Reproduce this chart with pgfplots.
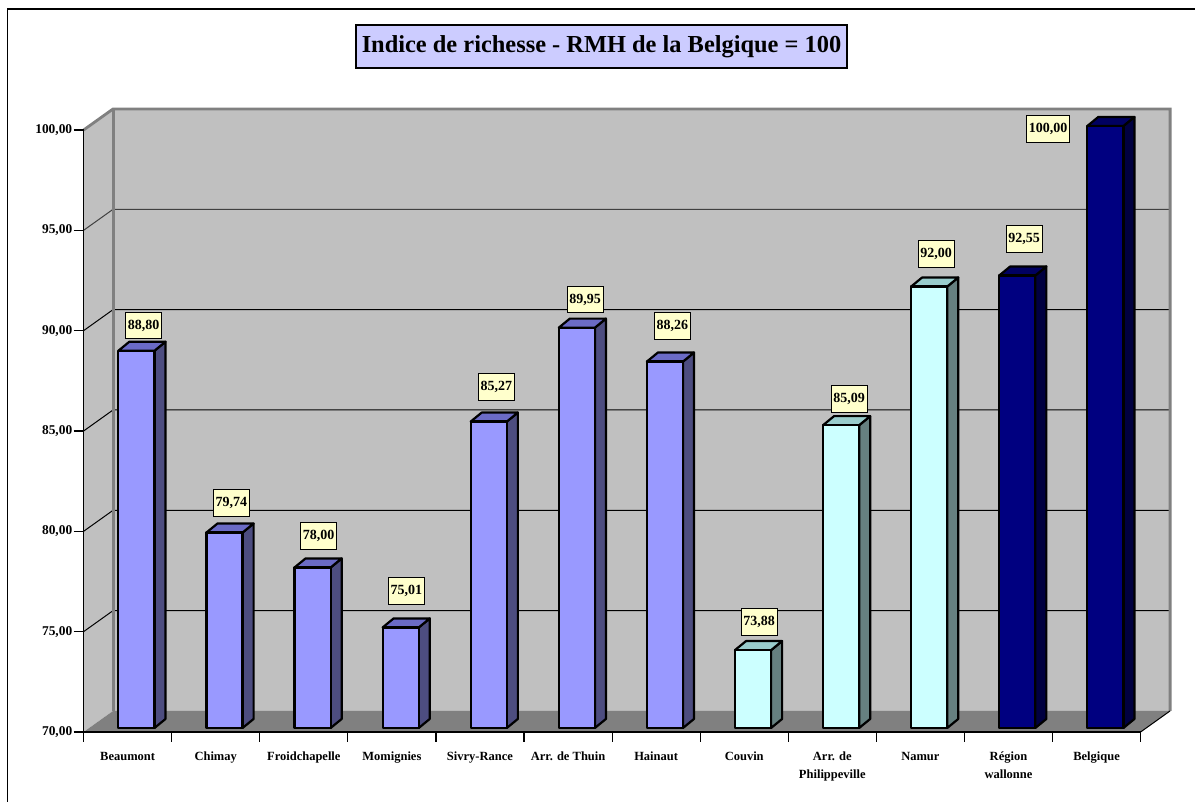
\documentclass[border=0pt]{standalone}
\usepackage{fontspec}
\setmainfont{Liberation Serif}
\usepackage{pgfplots}
\pgfplotsset{compat=1.18}

\definecolor{wall}{HTML}{C0C0C0}
\definecolor{floorc}{HTML}{808080}
\definecolor{lav}{HTML}{9999FF}
\definecolor{lavS}{HTML}{4D4D80}
\definecolor{lavT}{HTML}{6B6BC6}
\definecolor{cya}{HTML}{CCFFFF}
\definecolor{cyaS}{HTML}{668080}
\definecolor{cyaT}{HTML}{99CCCC}
\definecolor{nav}{HTML}{000080}
\definecolor{navS}{HTML}{000040}
\definecolor{navT}{HTML}{000060}
\definecolor{lblfill}{HTML}{FFFFCC}
\definecolor{titlefill}{HTML}{CCCCFF}

\tikzset{lbl/.style={draw=black, line width=0.4pt, fill=lblfill, inner xsep=1.1pt, inner ysep=0pt,
        minimum height=13.3pt, font=\fontsize{7}{8}\selectfont\bfseries}}

% one 3D bar: category, value, front / side / top colours
\newcommand{\cube}[5]{%
  \pgfmathsetmacro\xa{#1-0.105}%
  \pgfmathsetmacro\xb{#1+0.305}%
  \pgfmathsetmacro\xc{#1+0.43}%
  \pgfmathsetmacro\xd{#1+0.02}%
  \pgfmathsetmacro\ya{#2+0.2}%
  \pgfmathsetmacro\yb{#2+0.65}%
  \edef\cubecmd{%
    \noexpand\addplot[draw=black, line width=1.1pt, line join=round, fill=#4] coordinates {(\xb,70.2) (\xc,70.65) (\xc,\yb) (\xb,\ya)} -- cycle;%
    \noexpand\addplot[draw=black, line width=1.1pt, line join=round, fill=#5] coordinates {(\xa,\ya) (\xb,\ya) (\xc,\yb) (\xd,\yb)} -- cycle;%
    \noexpand\addplot[draw=black, line width=1.1pt, line join=round, fill=#3] coordinates {(\xa,70.2) (\xb,70.2) (\xb,\ya) (\xa,\ya)} -- cycle;%
  }\cubecmd}

\begin{document}
\begin{tikzpicture}
\useasboundingbox (0,0) rectangle (597.5pt,401pt);
\draw[line width=0.6pt] (3.75pt,0) -- (3.75pt,396.5pt) -- (597.5pt,396.5pt);
\node[draw=black, line width=0.6pt, fill=titlefill, minimum width=245.5pt, minimum height=21.5pt, inner sep=0pt,
      font=\fontsize{12.2}{14}\selectfont\bfseries] at (300.75pt,377.75pt) {Indice de richesse - RMH de la Belgique = 100};
\begin{axis}[
    at={(41.8pt,35pt)}, anchor=south west,
    scale only axis, width=528.5pt, height=301pt,
    xmin=-0.5, xmax=11.5, ymin=70, ymax=100,
    clip=false, axis on top,
    axis x line*=bottom, axis y line*=left,
    axis line style={line width=0.6pt},
    tick align=outside, major tick length=5pt,
    tick style={black, line width=0.6pt},
    ytick={70,75,...,100},
    yticklabel style={font=\fontsize{6.7}{8}\selectfont\bfseries, inner xsep=0.5pt,
        /pgf/number format/.cd, fixed, fixed zerofill, precision=2, use comma, assume math mode=true},
    xtick={-0.5,0.5,...,11.5},
    xticklabels={},
    extra x ticks={0,1,...,11},
    extra x tick labels={Beaumont, Chimay, Froidchapelle, Momignies, Sivry-Rance, Arr. de Thuin, Hainaut,
        Couvin, {Arr. de\\Philippeville}, Namur, {Région\\wallonne}, Belgique},
    extra x tick style={major tick length=0pt},
    xticklabel style={font=\fontsize{6.25}{9}\selectfont\bfseries, align=center, yshift=-6.5pt},
]
% walls and floor
\fill[wall] (-0.5,70) -- (-0.165,71.05) -- (-0.165,101.05) -- (-0.5,100) -- cycle;
\fill[wall] (-0.165,71.05) rectangle (11.835,101.05);
\fill[floorc] (-0.5,70) -- (11.5,70) -- (11.835,71.05) -- (-0.165,71.05) -- cycle;
\draw[black, line width=0.5pt] (-0.5,75) -- (-0.165,76.05) -- (11.835,76.05);
\draw[black, line width=0.5pt] (-0.5,80) -- (-0.165,81.05) -- (11.835,81.05);
\draw[black, line width=0.5pt] (-0.5,85) -- (-0.165,86.05) -- (11.835,86.05);
\draw[black, line width=0.5pt] (-0.5,90) -- (-0.165,91.05) -- (11.835,91.05);
\draw[black!75, line width=0.5pt] (-0.5,95) -- (-0.165,96.05) -- (11.835,96.05);
\draw[floorc, line width=1.4pt] (-0.5,100) -- (-0.165,101.05) -- (11.835,101.05) -- (11.835,71.05);
\draw[floorc, line width=1.4pt] (-0.165,71.05) -- (-0.165,101.05);
\draw[black, line width=0.5pt] (11.5,70) -- (11.835,71.05);

% bars
\cube{0}{88.80}{lav}{lavS}{lavT}
\cube{1}{79.74}{lav}{lavS}{lavT}
\cube{2}{78.00}{lav}{lavS}{lavT}
\cube{3}{75.01}{lav}{lavS}{lavT}
\cube{4}{85.27}{lav}{lavS}{lavT}
\cube{5}{89.95}{lav}{lavS}{lavT}
\cube{6}{88.26}{lav}{lavS}{lavT}
\cube{7}{73.88}{cya}{cyaS}{cyaT}
\cube{8}{85.09}{cya}{cyaS}{cyaT}
\cube{9}{92.00}{cya}{cyaS}{cyaT}
\cube{10}{92.55}{nav}{navS}{navT}
\cube{11}{100.00}{nav}{navS}{navT}

% value labels
\node[lbl] at (0.182,90.26) {88,80};
\node[lbl] at (1.178,81.43) {79,74};
\node[lbl] at (2.167,79.77) {78,00};
\node[lbl] at (3.163,77.03) {75,01};
\node[lbl] at (4.185,87.19) {85,27};
\node[lbl] at (5.193,91.55) {89,95};
\node[lbl] at (6.185,90.25) {88,26};
\node[lbl] at (7.170,75.50) {73,88};
\node[lbl] at (8.190,86.59) {85,09};
\node[lbl] at (9.178,93.82) {92,00};
\node[lbl] at (10.178,94.57) {92,55};
\node[lbl] at (10.449,100.05) {100,00};
\end{axis}
\end{tikzpicture}
\end{document}
